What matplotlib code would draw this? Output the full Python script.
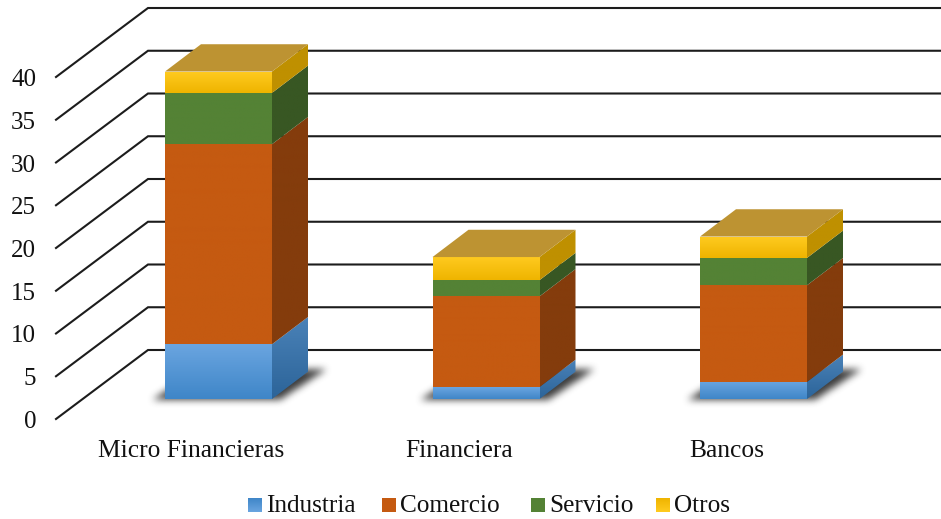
import numpy as np
import matplotlib
matplotlib.use("Agg")
from matplotlib import pyplot as plt
from matplotlib.colors import to_rgb
from matplotlib.patches import Polygon

categories = ["Micro Financieras", "Financiera", "Bancos"]
series_names = ["Industria", "Comercio", "Servicio", "Otros"]
industria = [6.4, 1.4, 2.0]
comercio = [23.4, 10.6, 11.3]
servicio = [6.0, 1.9, 3.2]
otros = [2.5, 2.7, 2.5]
y_ticks = [0, 5, 10, 15, 20, 25, 30, 35, 40]

# front gradient (top, bottom) and side gradient for each series
front_colors = [("#6aa5e0", "#3f86c8"), ("#c55a11", "#c55a11"),
                ("#548235", "#548235"), ("#ffcb20", "#efb400")]
side_colors = [("#4a82b8", "#2c6499"), ("#843c0c", "#843c0c"),
               ("#385723", "#385723"), ("#bf9000", "#bf9000")]
top_color = "#bd9332"
grid_color = "#1c1c1c"
text_color = "#111111"
serif = "Liberation Serif"

W, H = 941, 519
PX_PER_UNIT = 8.55    # pixels per value unit
PX_PER_CAT = 267.5    # pixels between categories
X0_PX, BASE_PX = 218.5, 399

BAR_W = 107 / PX_PER_CAT
DEPTH_X = 36 / PX_PER_CAT
DEPTH_Y = 27.3 / PX_PER_UNIT
WALL_Y = (BASE_PX - 350) / PX_PER_UNIT     # back wall zero
FLOOR_Y = (BASE_PX - 419) / PX_PER_UNIT    # front edge of the floor
WALL_X = (148 - X0_PX) / PX_PER_CAT
FLOOR_X = (56 - X0_PX) / PX_PER_CAT
RIGHT_X = (W - X0_PX) / PX_PER_CAT

fig = plt.figure(figsize=(W / 100, H / 100), dpi=100)
ax = fig.add_axes([0, 0, 1, 1])
xlim = (-X0_PX / PX_PER_CAT, RIGHT_X)
ylim = ((BASE_PX - H) / PX_PER_UNIT, BASE_PX / PX_PER_UNIT)
ax.axis("off")


def gradient_face(axes, points, top, bottom, zorder):
    # polygon filled with a vertical gradient, clipped from a small image
    pts = np.array(points)
    t = np.linspace(0, 1, 64)[:, None]
    c1, c2 = np.array(to_rgb(top)), np.array(to_rgb(bottom))
    img = (c1 * (1 - t) + c2 * t)[:, None, :]
    extent = (pts[:, 0].min(), pts[:, 0].max(), pts[:, 1].min(), pts[:, 1].max())
    im = axes.imshow(img, extent=extent, origin="upper", aspect="auto",
                     zorder=zorder, interpolation="bilinear")
    clip = Polygon(pts, closed=True, transform=axes.transData)
    im.set_clip_path(clip)


def blur(a, n):
    # repeated box filter, close enough to a gaussian
    k = np.ones(n) / n
    for _ in range(3):
        a = np.apply_along_axis(lambda r: np.convolve(r, k, mode="same"), 0, a)
        a = np.apply_along_axis(lambda r: np.convolve(r, k, mode="same"), 1, a)
    return a


def bar_shadow(axes, x):
    # soft dark parallelogram lying on the floor under a bar
    left = x - BAR_W / 2
    x0 = left - 45 / PX_PER_CAT
    x1 = left + (BAR_W + DEPTH_X) + 55 / PX_PER_CAT
    y0, y1 = -16 / PX_PER_UNIT, DEPTH_Y + 20 / PX_PER_UNIT
    xs = np.linspace(x0, x1, int((x1 - x0) * PX_PER_CAT))
    ys = np.linspace(y1, y0, int((y1 - y0) * PX_PER_UNIT))
    xx, yy = np.meshgrid(xs, ys)
    lean = yy / DEPTH_Y * DEPTH_X * 1.15
    inside = (xx - lean > left - 11 / PX_PER_CAT) & (xx - lean < left + BAR_W + 10 / PX_PER_CAT)
    inside &= (yy > -1.5 / PX_PER_UNIT) & (yy < DEPTH_Y + 2 / PX_PER_UNIT)
    alpha = blur(inside.astype(float), 7) * 0.95
    rgba = np.zeros(alpha.shape + (4,))
    rgba[..., :3] = 0.2
    rgba[..., 3] = alpha
    axes.imshow(rgba, extent=(x0, x1, y0, y1), aspect="auto", zorder=2,
                interpolation="bilinear")


# back wall lines and the diagonals running to the front of the floor
for v in y_ticks:
    ax.plot([FLOOR_X, WALL_X, RIGHT_X],
            [v + FLOOR_Y, v + WALL_Y, v + WALL_Y],
            color=grid_color, lw=1.5, zorder=1, solid_joinstyle="miter")
    ax.text((36 - X0_PX) / PX_PER_CAT, v + FLOOR_Y - 9 / PX_PER_UNIT, str(v), family=serif,
            fontsize=18, color=text_color, ha="right", va="baseline")

values = [industria, comercio, servicio, otros]
for i, name in enumerate(categories):
    bar_shadow(ax, i)
    left = i - BAR_W / 2
    right = i + BAR_W / 2
    bottom = 0
    for s in range(len(values)):
        top = bottom + values[s][i]
        gradient_face(ax, [(left, bottom), (right, bottom), (right, top), (left, top)],
                      front_colors[s][0], front_colors[s][1], 4)
        gradient_face(ax, [(right, bottom), (right + DEPTH_X, bottom + DEPTH_Y),
                           (right + DEPTH_X, top + DEPTH_Y), (right, top)],
                      side_colors[s][0], side_colors[s][1], 3)
        bottom = top
    ax.add_patch(Polygon([(left, bottom), (right, bottom),
                          (right + DEPTH_X, bottom + DEPTH_Y),
                          (left + DEPTH_X, bottom + DEPTH_Y)],
                         closed=True, fc=top_color, ec="none", zorder=4))
    ax.text(i - 27 / PX_PER_CAT, (BASE_PX - 457) / PX_PER_UNIT, name, family=serif,
            fontsize=18.4, color=text_color, ha="center", va="baseline")

ax.set_xlim(xlim)
ax.set_ylim(ylim)

# legend row laid out in pixel positions
lax = fig.add_axes([0, 0, 1, 1])
lax.set_xlim(0, W)
lax.set_ylim(H, 0)
lax.axis("off")
lax.patch.set_alpha(0)
legend_x = [248, 382, 531, 656]
for s, name in enumerate(series_names):
    x = legend_x[s]
    gradient_face(lax, [(x, 512), (x + 14, 512), (x + 14, 498), (x, 498)],
                  front_colors[s][0], front_colors[s][1], 4)
    lax.text(x + 18, 512, name, family=serif, fontsize=18.2, color=text_color,
             ha="left", va="baseline")
lax.set_xlim(0, W)
lax.set_ylim(H, 0)

fig.savefig("out.png", dpi=100)
